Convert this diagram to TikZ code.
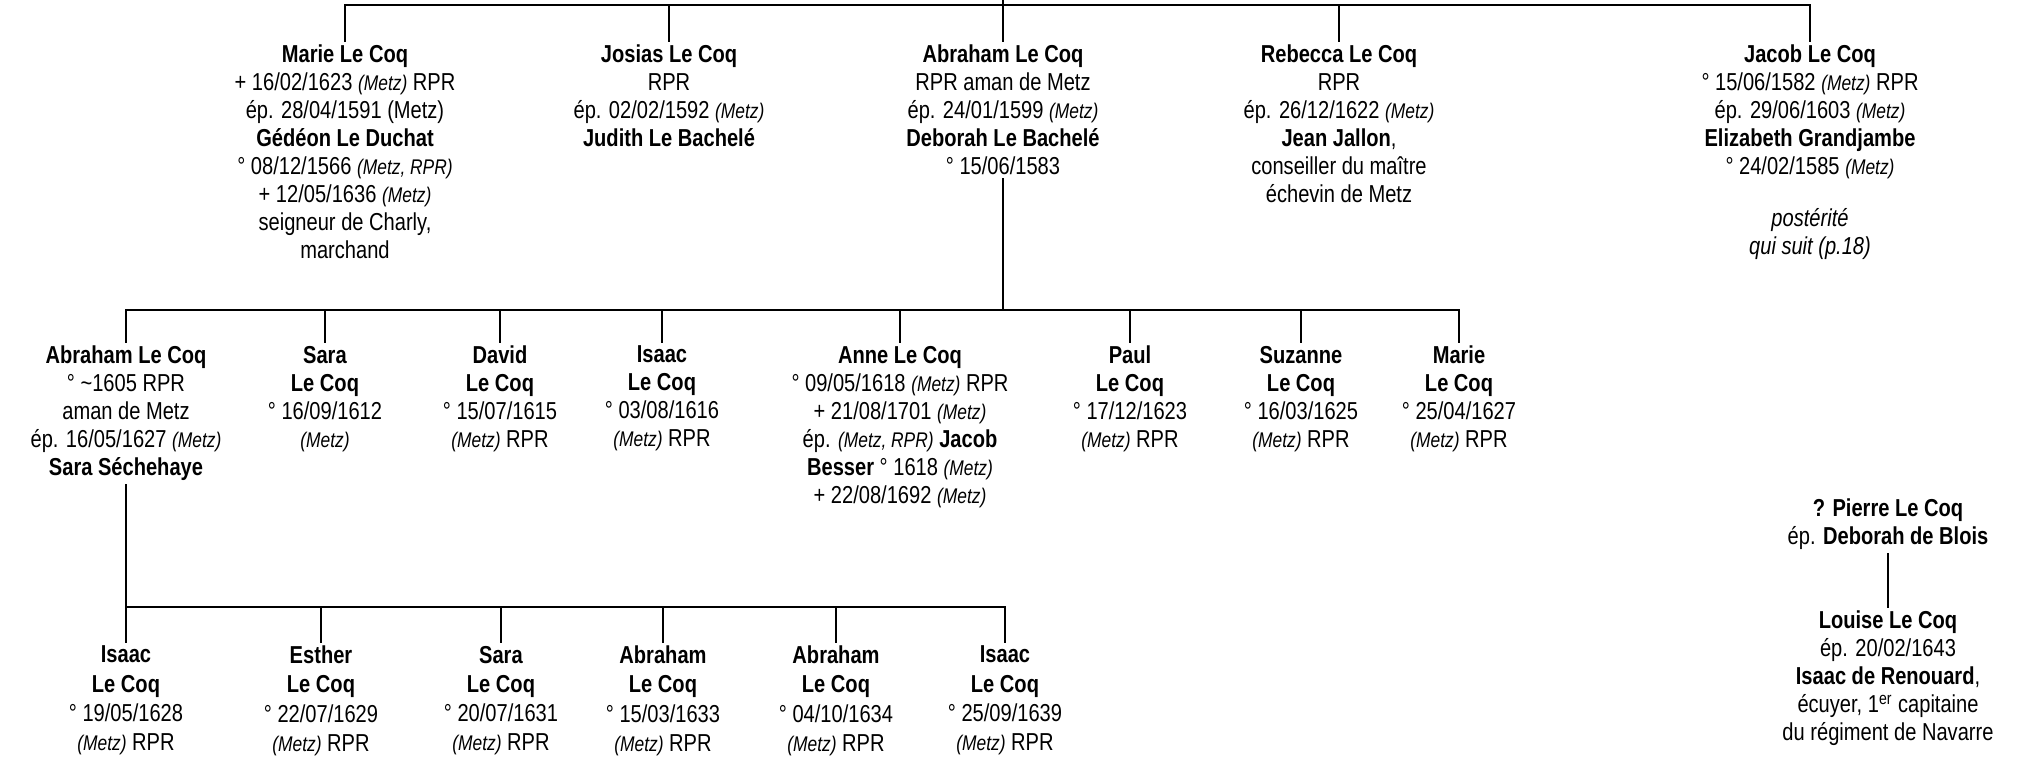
\documentclass[tikz,border=0pt]{standalone}
\usepackage{fontspec}
\setmainfont{Liberation Sans}[FakeStretch=0.82]
\newcommand\pfont{\fontsize{12.25}{14}\selectfont}
\newcommand\pfontc{\fontsize{12.25}{14.6}\selectfont}
\newcommand\mz[1]{{\fontsize{10.6}{14}\selectfont\itshape #1}}
\tikzset{
  person/.style={align=center, anchor=north, inner xsep=0pt, inner ysep=2pt, outer sep=0pt, font=\pfont},
  personc/.style={person, font=\pfontc},
  link/.style={line width=1.1pt, line cap=rect, draw=black},
}
\begin{document}
\begin{tikzpicture}[x=0.5pt, y=-0.5pt]
\useasboundingbox (0,0) rectangle (2024,757);

% ---------- row 1 ----------
\node[person] (marie) at (345,41) {\textbf{Marie Le Coq}\\+ 16/02/1623 \mz{(Metz)} RPR\\ép. 28/04/1591 (Metz)\\\textbf{Gédéon Le Duchat}\\° 08/12/1566 \mz{(Metz, RPR)}\\+ 12/05/1636 \mz{(Metz)}\\seigneur de Charly,\\marchand};
\node[person] (josias) at (669,41) {\textbf{Josias Le Coq}\\RPR\\ép. 02/02/1592 \mz{(Metz)}\\\textbf{Judith Le Bachelé}};
\node[person] (abraham) at (1003,41) {\textbf{Abraham Le Coq}\\RPR aman de Metz\\ép. 24/01/1599 \mz{(Metz)}\\\textbf{Deborah Le Bachelé}\\° 15/06/1583};
\node[person] (rebecca) at (1339,41) {\textbf{Rebecca Le Coq}\\RPR\\ép. 26/12/1622 \mz{(Metz)}\\\textbf{Jean Jallon},\\conseiller du maître\\échevin de Metz};
\node[person] (jacob) at (1810,41) {\textbf{Jacob Le Coq}\\° 15/06/1582 \mz{(Metz)} RPR\\ép. 29/06/1603 \mz{(Metz)}\\\textbf{Elizabeth Grandjambe}\\° 24/02/1585 \mz{(Metz)}\\[12pt]\textit{postérité}\\\textit{qui suit (p.18)}};

% ---------- row 2 ----------
\node[person] (a2) at (126,342) {\textbf{Abraham Le Coq}\\° \textasciitilde1605 RPR\\aman de Metz\\ép. 16/05/1627 \mz{(Metz)}\\\textbf{Sara Séchehaye}};
\node[person] (sara2) at (325,342) {\textbf{Sara}\\\textbf{Le Coq}\\° 16/09/1612\\\mz{(Metz)}};
\node[person] (david) at (500,342) {\textbf{David}\\\textbf{Le Coq}\\° 15/07/1615\\\mz{(Metz)} RPR};
\node[person] (isaac2) at (662,342) {\textbf{Isaac}\\\textbf{Le Coq}\\° 03/08/1616\\\mz{(Metz)} RPR};
\node[person] (anne) at (900,342) {\textbf{Anne Le Coq}\\° 09/05/1618 \mz{(Metz)} RPR\\+ 21/08/1701 \mz{(Metz)}\\ép. \mz{(Metz, RPR)} \textbf{Jacob}\\\textbf{Besser} ° 1618 \mz{(Metz)}\\+ 22/08/1692 \mz{(Metz)}};
\node[person] (paul) at (1130,342) {\textbf{Paul}\\\textbf{Le Coq}\\° 17/12/1623\\\mz{(Metz)} RPR};
\node[person] (suzanne) at (1301,342) {\textbf{Suzanne}\\\textbf{Le Coq}\\° 16/03/1625\\\mz{(Metz)} RPR};
\node[person] (marie2) at (1459,342) {\textbf{Marie}\\\textbf{Le Coq}\\° 25/04/1627\\\mz{(Metz)} RPR};

% ---------- row 3 ----------
\node[personc] (isaac3) at (126,642) {\textbf{Isaac}\\\textbf{Le Coq}\\° 19/05/1628\\\mz{(Metz)} RPR};
\node[personc] (esther) at (321,642) {\textbf{Esther}\\\textbf{Le Coq}\\° 22/07/1629\\\mz{(Metz)} RPR};
\node[personc] (sara3) at (501,642) {\textbf{Sara}\\\textbf{Le Coq}\\° 20/07/1631\\\mz{(Metz)} RPR};
\node[personc] (abr3a) at (663,642) {\textbf{Abraham}\\\textbf{Le Coq}\\° 15/03/1633\\\mz{(Metz)} RPR};
\node[personc] (abr3b) at (836,642) {\textbf{Abraham}\\\textbf{Le Coq}\\° 04/10/1634\\\mz{(Metz)} RPR};
\node[personc] (isaac3b) at (1005,642) {\textbf{Isaac}\\\textbf{Le Coq}\\° 25/09/1639\\\mz{(Metz)} RPR};

% ---------- right block ----------
\node[person] (pierre) at (1888,495) {\textbf{? Pierre Le Coq}\\ép. \textbf{Deborah de Blois}};
\node[person] (louise) at (1888,607) {\textbf{Louise Le Coq}\\ép. 20/02/1643\\\textbf{Isaac de Renouard},\\écuyer, 1\textsuperscript{er} capitaine\\du régiment de Navarre};

% ---------- connectors ----------
\coordinate (up) at (1003,0);
\coordinate (bar1) at (1003,5);
\coordinate (bar2) at (1003,310);
\coordinate (bar3) at (126,607);

\draw[link] (up) -- (bar1);
\draw[link] (bar1 -| marie.north) -- (bar1 -| jacob.north);
\foreach \n in {marie,josias,abraham,rebecca,jacob}
  \draw[link] (bar1 -| \n.north) -- (\n.north);

\draw[link] (abraham.south) -- (bar2);
\draw[link] (bar2 -| a2.north) -- (bar2 -| marie2.north);
\foreach \n in {a2,sara2,david,isaac2,anne,paul,suzanne,marie2}
  \draw[link] (bar2 -| \n.north) -- (\n.north);

\draw[link] (a2.south) -- (bar3);
\draw[link] (bar3 -| isaac3.north) -- (bar3 -| isaac3b.north);
\foreach \n in {isaac3,esther,sara3,abr3a,abr3b,isaac3b}
  \draw[link] (bar3 -| \n.north) -- (\n.north);

\draw[link] (pierre.south -| louise.north) -- (louise.north);
\end{tikzpicture}
\end{document}
